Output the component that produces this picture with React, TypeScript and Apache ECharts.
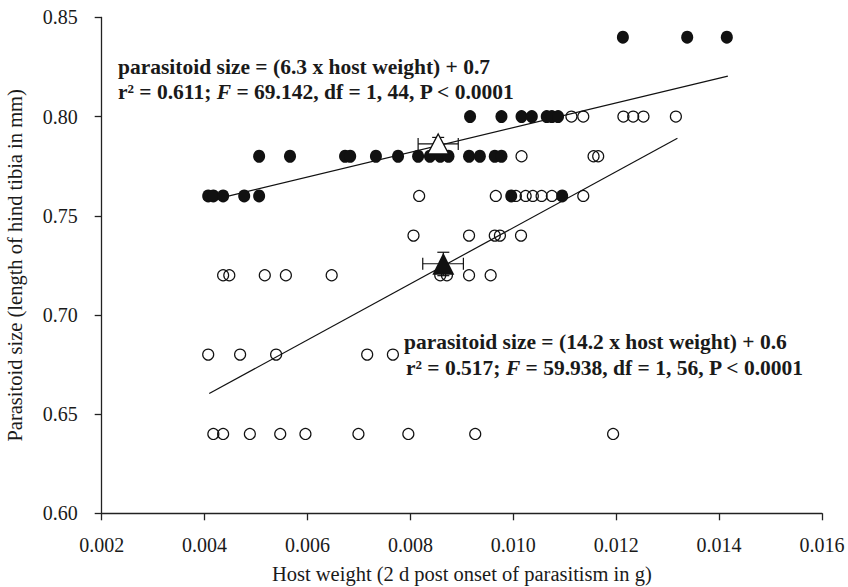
import React, { useEffect, useRef } from "react";
import * as echarts from "echarts";

// Filled circles: host weight (g) per parasitoid size row
const filled084 = [0.01213, 0.01338, 0.01415];
const filled080 = [0.00916, 0.00977, 0.01016, 0.01036, 0.01065, 0.01075, 0.01087];
const filled078 = [0.00506, 0.00566, 0.00673, 0.00683, 0.00733, 0.00776, 0.00815, 0.00838, 0.00858, 0.00874, 0.00914, 0.00935, 0.00964, 0.00977];
const filled076 = [0.00407, 0.00417, 0.00436, 0.00477, 0.00506, 0.00996, 0.01095];
const filledRows = [0.84, 0.8, 0.78, 0.76];

// Open circles
const open080 = [0.01113, 0.01136, 0.01214, 0.01233, 0.01253, 0.01316];
const open078 = [0.01016, 0.01156, 0.01165];
const open076 = [0.00817, 0.00966, 0.01005, 0.01024, 0.01038, 0.01055, 0.01075, 0.01136];
const open074 = [0.00806, 0.00914, 0.00964, 0.00974, 0.01015];
const open072 = [0.00436, 0.00448, 0.00517, 0.00558, 0.00647, 0.00858, 0.00871, 0.00914, 0.00956];
const open068 = [0.00407, 0.00469, 0.00539, 0.00716, 0.00766];
const open064 = [0.00417, 0.00436, 0.00488, 0.00547, 0.00596, 0.00699, 0.00796, 0.00926, 0.01194];
const openRows = [0.8, 0.78, 0.76, 0.74, 0.72, 0.68, 0.64];

// Regression line end points [host weight, size]
const fitFilled = [[0.00436, 0.7593], [0.01417, 0.8204]];
const fitOpen = [[0.00409, 0.6604], [0.01319, 0.7891]];

// Means: [x, y, xLow, xHigh, yLow, yHigh]
const meanFilledGroup = [0.00854, 0.7862, 0.00815, 0.00893, 0.7825, 0.7895];
const meanOpenGroup = [0.00864, 0.7258, 0.00824, 0.00903, 0.7198, 0.7316];

const xTicks = { min: 0.002, max: 0.016, interval: 0.002 };
const yTicks = { min: 0.6, max: 0.85, interval: 0.05 };

const upperText = ["parasitoid size = (6.3 x host weight) + 0.7", "r² = 0.611; {i|F} = 69.142, df = 1, 44, P < 0.0001"];
const lowerText = ["parasitoid size = (14.2 x host weight) + 0.6", "r² = 0.517; {i|F} = 59.938, df = 1, 56, P < 0.0001"];

const FONT = "Liberation Serif";
const INK = "#1a1a1a";

function rows(groups: number[][], ys: number[]) {
  const out: number[][] = [];
  groups.forEach((g, i) => g.forEach((x) => out.push([x, ys[i]])));
  return out;
}

export default function App() {
  const ref = useRef<HTMLDivElement>(null);
  useEffect(() => {
    if (!ref.current) return;
    const chart = echarts.init(ref.current, undefined, { renderer: "svg" });
    const filledData = rows([filled084, filled080, filled078, filled076], filledRows);
    const openData = rows([open080, open078, open076, open074, open072, open068, open064], openRows);
    const means = [meanFilledGroup, meanOpenGroup];
    const textStyleBold = {
      fontFamily: FONT,
      fontWeight: "bold" as const,
      fontSize: 21.5,
      fill: INK,
      rich: { i: { fontFamily: FONT, fontWeight: "bold", fontStyle: "italic", fontSize: 21.5, color: INK } },
    };
    const mkText = (x: number, y: number, t: string) => ({
      type: "text",
      x,
      y,
      style: { ...textStyleBold, text: t, textAlign: "left", textVerticalAlign: "middle" },
      z: 100,
    });
    chart.setOption({
      animation: false,
      backgroundColor: "#fff",
      grid: { left: 101.7, right: 26, top: 17.4, bottom: 73.7, containLabel: false, outerBoundsMode: "none" },
      xAxis: {
        type: "value",
        min: xTicks.min,
        max: xTicks.max,
        interval: xTicks.interval,
        name: "Host weight (2 d post onset of parasitism in g)",
        nameLocation: "middle",
        nameGap: 50,
        nameTextStyle: { fontFamily: FONT, fontSize: 20.5, color: INK },
        axisLine: { lineStyle: { color: "#222", width: 1.3 } },
        axisTick: { inside: false, length: 7, lineStyle: { color: "#222", width: 1.3 } },
        axisLabel: {
          fontFamily: FONT,
          fontSize: 20,
          color: INK,
          margin: 22,
          formatter: (v: number) => v.toFixed(3),
        },
        splitLine: { show: false },
      },
      yAxis: {
        type: "value",
        min: yTicks.min,
        max: yTicks.max,
        interval: yTicks.interval,
        name: "Parasitoid size (length of hind tibia in mm)",
        nameLocation: "middle",
        nameGap: 76,
        nameTextStyle: { fontFamily: FONT, fontSize: 20.5, color: INK },
        axisLine: { show: true, lineStyle: { color: "#222", width: 1.3 } },
        axisTick: { show: true, inside: false, length: 7, lineStyle: { color: "#222", width: 1.3 } },
        axisLabel: {
          fontFamily: FONT,
          fontSize: 20,
          color: INK,
          margin: 24,
          formatter: (v: number) => v.toFixed(2),
        },
        splitLine: { show: false },
      },
      series: [
        { type: "line", data: fitFilled, symbol: "none", lineStyle: { color: "#111", width: 1.2 }, z: 1 },
        { type: "line", data: fitOpen, symbol: "none", lineStyle: { color: "#111", width: 1.2 }, z: 1 },
        {
          type: "scatter",
          data: openData,
          symbol: "circle",
          symbolSize: 11,
          itemStyle: { color: "rgba(255,255,255,0)", borderColor: "#111", borderWidth: 1.2, opacity: 1 },
          z: 2,
        },
        {
          type: "scatter",
          data: filledData,
          symbol: "circle",
          symbolSize: [12, 13],
          itemStyle: { color: "#111", opacity: 1 },
          z: 3,
        },
        {
          type: "custom",
          data: means,
          z: 4,
          renderItem: (params: any, api: any) => {
            const x = api.value(0), y = api.value(1);
            const pL = api.coord([api.value(2), y]);
            const pR = api.coord([api.value(3), y]);
            const pB = api.coord([x, api.value(4)]);
            const pT = api.coord([x, api.value(5)]);
            const st = { stroke: "#111", lineWidth: 1.2 };
            const cap = 6;
            return {
              type: "group",
              children: [
                { type: "line", shape: { x1: pL[0], y1: pL[1], x2: pR[0], y2: pR[1] }, style: st },
                { type: "line", shape: { x1: pL[0], y1: pL[1] - cap, x2: pL[0], y2: pL[1] + cap }, style: st },
                { type: "line", shape: { x1: pR[0], y1: pR[1] - cap, x2: pR[0], y2: pR[1] + cap }, style: st },
                { type: "line", shape: { x1: pB[0], y1: pB[1], x2: pT[0], y2: pT[1] }, style: st },
                { type: "line", shape: { x1: pT[0] - cap, y1: pT[1], x2: pT[0] + cap, y2: pT[1] }, style: st },
                { type: "line", shape: { x1: pB[0] - cap, y1: pB[1], x2: pB[0] + cap, y2: pB[1] }, style: st },
              ],
            };
          },
        },
        {
          type: "scatter",
          data: [[meanFilledGroup[0], meanFilledGroup[1]]],
          symbol: "triangle",
          symbolSize: [21, 20],
          itemStyle: { color: "#fff", borderColor: "#111", borderWidth: 1.3, opacity: 1 },
          z: 5,
        },
        {
          type: "scatter",
          data: [[meanOpenGroup[0], meanOpenGroup[1]]],
          symbol: "triangle",
          symbolSize: [22, 22],
          itemStyle: { color: "#111", opacity: 1 },
          z: 5,
        },
      ],
      graphic: [
        mkText(118, 67, upperText[0]),
        mkText(118, 92, upperText[1]),
        mkText(404, 342, lowerText[0]),
        mkText(406, 368, lowerText[1]),
      ],
    });
    return () => chart.dispose();
  }, []);
  return <div ref={ref} style={{ position: "fixed", left: 0, top: 0, width: 848, height: 587 }} />;
}
